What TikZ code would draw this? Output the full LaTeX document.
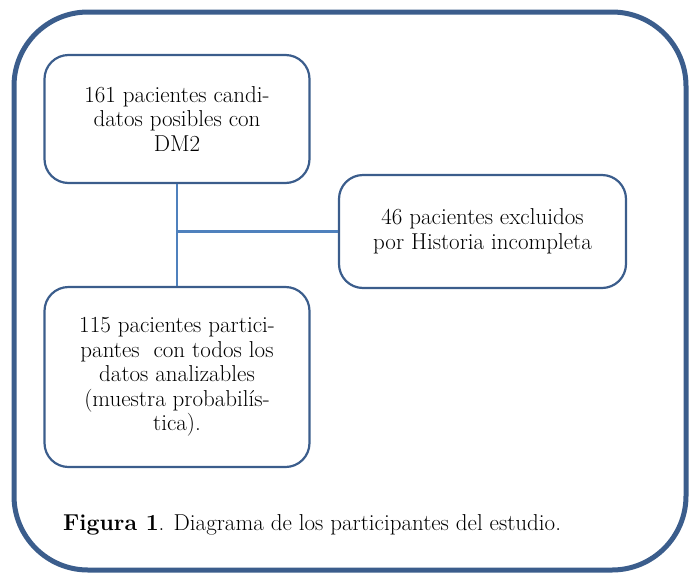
\documentclass[tikz,border=0pt]{standalone}
\usetikzlibrary{positioning}
\definecolor{marco}{RGB}{59,93,140}
\definecolor{enlace}{RGB}{79,129,189}
\begin{document}
\begin{tikzpicture}[x=1pt,y=-1pt,
    caja/.style={draw=marco,line width=2.2pt,rounded corners=24pt,align=center,
      inner sep=0pt,font=\fontsize{23}{24.5}\selectfont},
    enlace/.style={draw=enlace,line width=2.2pt}]
  \useasboundingbox (0,0) rectangle (694,574);
  \draw [marco,line width=5pt,rounded corners=74pt] (14,12) rectangle (686,570);
  \node [caja,minimum width=265pt,minimum height=128pt] (candidatos) at (177,119)
    {161 pacientes candi-\\datos posibles con\\DM2};
  \node [caja,minimum width=287pt,minimum height=113pt] (excluidos) at (482.5,231.5)
    {46 pacientes excluidos\\por Historia incompleta};
  \node [caja,minimum width=265pt,minimum height=180pt] (participantes) at (177,377)
    {115 pacientes partici-\\pantes\ \ con todos los\\datos analizables\\(muestra probabilís-\\tica).};
  \draw [enlace] (candidatos.south) -- (participantes.north);
  \draw [enlace] (candidatos.south |- excluidos.west) -- (excluidos.west);
  \node [anchor=base west,font=\fontsize{23}{26}\selectfont,inner sep=0pt] (pie) at (63,530)
    {\textbf{Figura 1}. Diagrama de los participantes del estudio.};
\end{tikzpicture}
\end{document}
